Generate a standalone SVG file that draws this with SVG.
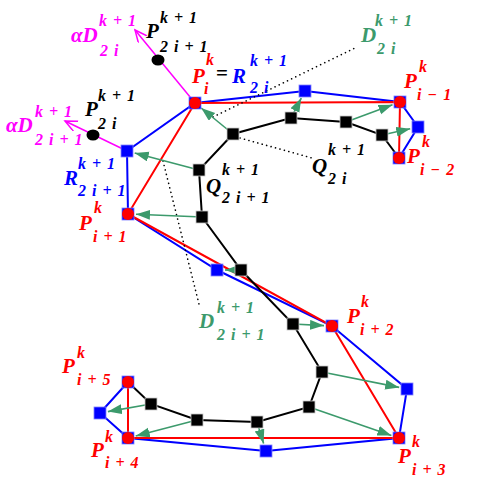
<svg xmlns="http://www.w3.org/2000/svg" width="485" height="499" viewBox="0 0 485 499">
<defs>
<marker id="ga" markerUnits="userSpaceOnUse" markerWidth="15" markerHeight="11" refX="14" refY="5" orient="auto"><path d="M0,0 L14,5 L0,10 z" fill="#3c9a6c"/></marker>
<marker id="ma" markerUnits="userSpaceOnUse" markerWidth="14" markerHeight="12" refX="12" refY="5.5" orient="auto"><path d="M0,0 L12,5.5 L0,11" fill="none" stroke="#ff00ff" stroke-width="1.5"/></marker>
</defs>
<style>
.m{font-size:21px}.s{font-size:16px;word-spacing:2px}
.r{fill:#ff0000}.b{fill:#0000ff}.k{fill:#000}.g{fill:#3c9a6c}.mg{fill:#ff00ff}
.bl{fill:none;stroke:#0000ff;stroke-width:2}
.rl{fill:none;stroke:#ff0000;stroke-width:2}
.kl{fill:none;stroke:#000;stroke-width:2}
.gl{stroke:#3c9a6c;stroke-width:1.6;marker-end:url(#ga)}
.ml{stroke:#ff00ff;stroke-width:1.5;marker-end:url(#ma)}
.dl{stroke:#000;stroke-width:1.6;stroke-dasharray:0.1 4.5;stroke-linecap:round}
.bs{fill:#0000ff;stroke:#8080ff;stroke-width:0.8}
.ks{fill:#000;stroke:#c8c8c8;stroke-width:0.8}
.rc{fill:#ff0000}
</style>
<rect width="485" height="499" fill="#fff"/>
<g id="connectors">
<polyline class="bl" points="399,158 418,127 400,102 305,91 195,103 127,151 128,214 217,270 332,326 407,389 399,438 266,451 128,438 100,413 128,382"/>
<polyline class="rl" points="399,158 400,102 195,103 128,214 332,326 399,438 128,438 128,382"/>
<polyline class="kl" points="399,158 382,135 346,122 291,118 233,134 199,170 202,217 241,270 293,324 322,372 309,407 257,422 197,420 151,404 128,382"/>
<line class="dl" x1="213" y1="117" x2="355" y2="48"/>
<line class="dl" x1="240" y1="138" x2="312" y2="158"/>
<line class="dl" x1="163" y1="161" x2="200" y2="308"/>
<line class="gl" x1="233" y1="134" x2="201.2" y2="108"/>
<line class="gl" x1="291" y1="118" x2="301.3" y2="98.1"/>
<line class="gl" x1="346" y1="122" x2="392.5" y2="104.8"/>
<line class="gl" x1="382" y1="135" x2="410.2" y2="128.7"/>
<line class="gl" x1="199" y1="170" x2="134.7" y2="153"/>
<line class="gl" x1="202" y1="217" x2="136" y2="214.3"/>
<line class="gl" x1="241" y1="270" x2="225" y2="270"/>
<line class="gl" x1="293" y1="324" x2="324" y2="325.6"/>
<line class="gl" x1="322" y1="372" x2="399.2" y2="387.4"/>
<line class="gl" x1="309" y1="407" x2="391.4" y2="435.4"/>
<line class="gl" x1="257" y1="422" x2="263.6" y2="443.4"/>
<line class="gl" x1="197" y1="420" x2="135.7" y2="436"/>
<line class="gl" x1="151" y1="404" x2="107.9" y2="411.6"/>
<line class="ml" x1="195" y1="103" x2="135" y2="30"/>
<line class="ml" x1="127" y1="151" x2="65" y2="121"/>
</g>
<g id="R-nodes">
<rect class="bs" x="299" y="85" width="12" height="12"/>
<rect class="bs" x="412" y="121" width="12" height="12"/>
<rect class="bs" x="121" y="145" width="12" height="12"/>
<rect class="bs" x="211" y="264" width="12" height="12"/>
<rect class="bs" x="401" y="383" width="12" height="12"/>
<rect class="bs" x="260" y="445" width="12" height="12"/>
<rect class="bs" x="94" y="407" width="12" height="12"/>
</g>
<g id="P-nodes">
<g id="Pi"><rect class="bs" x="189" y="97" width="12" height="12"/><circle class="rc" cx="195" cy="103" r="6"/></g>
<g id="Pim1"><rect class="bs" x="394" y="96" width="12" height="12"/><circle class="rc" cx="400" cy="102" r="6"/></g>
<g id="Pim2"><rect class="bs" x="393" y="152" width="12" height="12"/><circle class="rc" cx="399" cy="158" r="6"/></g>
<g id="Pip1"><rect class="bs" x="122" y="208" width="12" height="12"/><circle class="rc" cx="128" cy="214" r="6"/></g>
<g id="Pip2"><rect class="bs" x="326" y="320" width="12" height="12"/><circle class="rc" cx="332" cy="326" r="6"/></g>
<g id="Pip3"><rect class="bs" x="393" y="432" width="12" height="12"/><circle class="rc" cx="399" cy="438" r="6"/></g>
<g id="Pip4"><rect class="bs" x="122" y="432" width="12" height="12"/><circle class="rc" cx="128" cy="438" r="6"/></g>
<g id="Pip5"><rect class="bs" x="122" y="376" width="12" height="12"/><circle class="rc" cx="128" cy="382" r="6"/></g>
</g>
<g id="Q-nodes">
<rect class="ks" x="376" y="129" width="12" height="12"/>
<rect class="ks" x="340" y="116" width="12" height="12"/>
<rect class="ks" x="285" y="112" width="12" height="12"/>
<rect class="ks" x="227" y="128" width="12" height="12"/>
<rect class="ks" x="193" y="164" width="12" height="12"/>
<rect class="ks" x="196" y="211" width="12" height="12"/>
<rect class="ks" x="235" y="264" width="12" height="12"/>
<rect class="ks" x="287" y="318" width="12" height="12"/>
<rect class="ks" x="316" y="366" width="12" height="12"/>
<rect class="ks" x="303" y="401" width="12" height="12"/>
<rect class="ks" x="251" y="416" width="12" height="12"/>
<rect class="ks" x="191" y="414" width="12" height="12"/>
<rect class="ks" x="145" y="398" width="12" height="12"/>
</g>
<g id="new-points">
<ellipse cx="158" cy="60" rx="6.5" ry="5.5" fill="#000"/>
<ellipse cx="93" cy="135" rx="6.5" ry="5.5" fill="#000"/>
</g>
<g id="labels" font-family="Liberation Serif, Times New Roman, serif" font-style="italic" font-weight="bold">
<text class="m mg" x="71" y="42">αD</text><text class="s mg" x="99" y="26">k + 1</text><text class="s mg" x="100" y="56">2 i</text>
<text class="m k" x="146" y="38">P</text><text class="s k" x="160" y="23">k + 1</text><text class="s k" x="160" y="52">2 i + 1</text>
<text class="m k" x="85" y="116">P</text><text class="s k" x="98" y="101">k + 1</text><text class="s k" x="98" y="129">2 i</text>
<text class="m mg" x="6" y="132">αD</text><text class="s mg" x="35" y="117">k + 1</text><text class="s mg" x="35" y="145">2 i + 1</text>
<text class="m r" x="192" y="83">P</text><text class="s r" x="206" y="65">k</text><text class="s r" x="204" y="94">i</text>
<text class="m k" x="216" y="80" font-style="normal">=</text>
<text class="m b" x="232" y="83">R</text><text class="s b" x="250" y="66">k + 1</text><text class="s b" x="250" y="93">2 i</text>
<text class="m g" x="361" y="42">D</text><text class="s g" x="375" y="26">k + 1</text><text class="s g" x="377" y="54">2 i</text>
<text class="m r" x="404" y="88">P</text><text class="s r" x="419" y="72">k</text><text class="s r" x="417" y="100">i − 1</text>
<text class="m r" x="407" y="163">P</text><text class="s r" x="422" y="147">k</text><text class="s r" x="420" y="175">i − 2</text>
<text class="m k" x="312" y="173">Q</text><text class="s k" x="328" y="155">k + 1</text><text class="s k" x="328" y="184">2 i</text>
<text class="m k" x="206" y="193">Q</text><text class="s k" x="222" y="175">k + 1</text><text class="s k" x="222" y="203">2 i + 1</text>
<text class="m b" x="64" y="185">R</text><text class="s b" x="78" y="169">k + 1</text><text class="s b" x="78" y="196">2 i + 1</text>
<text class="m r" x="79" y="230">P</text><text class="s r" x="94" y="213">k</text><text class="s r" x="93" y="242">i + 1</text>
<text class="m g" x="199" y="328">D</text><text class="s g" x="217" y="313">k + 1</text><text class="s g" x="217" y="340">2 i + 1</text>
<text class="m r" x="347" y="323">P</text><text class="s r" x="361" y="307">k</text><text class="s r" x="360" y="335">i + 2</text>
<text class="m r" x="398" y="463">P</text><text class="s r" x="412" y="447">k</text><text class="s r" x="412" y="475">i + 3</text>
<text class="m r" x="91" y="457">P</text><text class="s r" x="105" y="442">k</text><text class="s r" x="105" y="468">i + 4</text>
<text class="m r" x="62" y="373">P</text><text class="s r" x="77" y="358">k</text><text class="s r" x="77" y="385">i + 5</text>
</g>
</svg>
